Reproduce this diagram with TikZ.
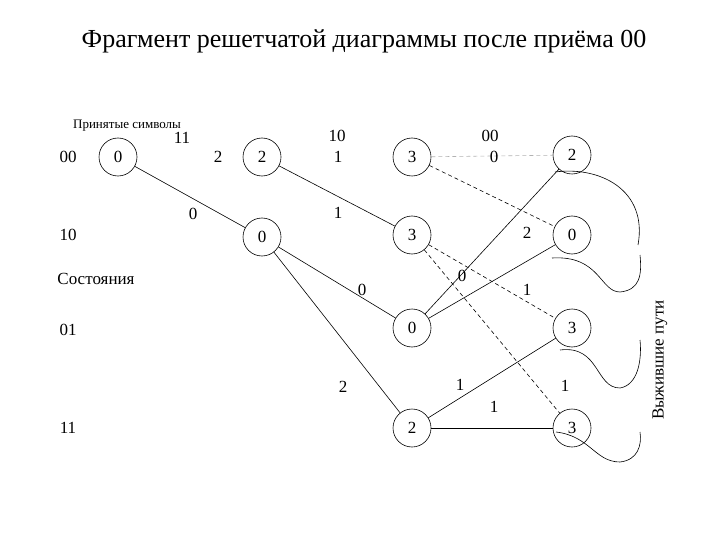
\documentclass[tikz,border=0pt]{standalone}
\usepackage{fontspec}
\setmainfont{Liberation Serif}
\begin{document}
\begin{tikzpicture}[x=1pt,y=-1pt,
  st/.style={circle,draw,line width=0.6pt,minimum size=38pt,inner sep=0pt,font=\fontsize{17}{19}\selectfont},
  lb/.style={font=\fontsize{17}{19}\selectfont},
  ln/.style={line width=0.6pt},
  dl/.style={ln,dash pattern=on 4pt off 3pt},
  gl/.style={ln,dash pattern=on 4pt off 3pt,gray!60},
  sv/.style={line width=0.6pt}]
\useasboundingbox (0,0) rectangle (720,540);
\node[font=\fontsize{26}{30}\selectfont] (title) at (364,41) {Фрагмент решетчатой диаграммы после приёма 00};
\node[st] (a0) at (118,157) {0};
\node[st] (b0) at (262,157) {2};
\node[st] (b1) at (262,237) {0};
\node[st] (c0) at (412,157) {3};
\node[st] (c1) at (412,235) {3};
\node[st] (c2) at (412,328) {0};
\node[st] (c3) at (412,428) {2};
\node[st] (d0) at (572,155) {2};
\node[st] (d1) at (572,235) {0};
\node[st] (d2) at (572,328) {3};
\node[st] (d3) at (572,428) {3};
\draw[ln] (a0) -- (b1);
\draw[ln] (b0) -- (c1);
\draw[ln] (b1) -- (c2);
\draw[ln] (b1) -- (c3);
\draw[ln] (c2) -- (d0);
\draw[ln] (c2) -- (d1);
\draw[ln] (c3) -- (d2);
\draw[ln] (c3) -- (d3);
\draw[gl] (c0) -- (d0);
\draw[dl] (c0) -- (d1);
\draw[dl] (c1) -- (d2);
\draw[dl] (c1) -- (d3);
\node[font=\fontsize{13}{15}\selectfont] (recv) at (127,126) {Принятые символы};
\node[lb] (t1) at (182,138) {11};
\node[lb] (t2) at (337,136) {10};
\node[lb] (t3) at (490,136) {00};
\node[lb] (m1) at (218,157) {2};
\node[lb] (m2) at (338,157) {1};
\node[lb] (m3) at (494,157) {0};
\node[lb] (e1) at (193,214) {0};
\node[lb] (e2) at (338,213) {1};
\node[lb] (e3) at (362,290) {0};
\node[lb] (e4) at (343,387) {2};
\node[lb] (e5) at (462,276) {0};
\node[lb] (e6) at (527,233) {2};
\node[lb] (e7) at (527,290) {1};
\node[lb] (e8) at (460,385) {1};
\node[lb] (e9) at (494,407) {1};
\node[lb] (e10) at (565,386) {1};
\node[lb] (r0) at (68,157) {00};
\node[lb] (r1) at (68,235) {10};
\node[lb] (rs) at (96,279) {Состояния};
\node[lb] (r2) at (68,330) {01};
\node[lb] (r3) at (68,428) {11};
\node[lb,rotate=90] (surv) at (660,360) {Выжившие пути};
\draw[sv] (555,172) .. controls (600,166) and (648,190) .. (638,245);
\draw[sv] (552,258) .. controls (600,255) and (600,292) .. (620,292) .. controls (640,290) and (642,275) .. (640,255);
\draw[sv] (560,350) .. controls (600,345) and (595,388) .. (620,388) .. controls (638,385) and (642,360) .. (640,340);
\draw[sv] (556,432) .. controls (590,436) and (595,462) .. (620,462) .. controls (638,460) and (642,445) .. (640,432);
\end{tikzpicture}
\end{document}
